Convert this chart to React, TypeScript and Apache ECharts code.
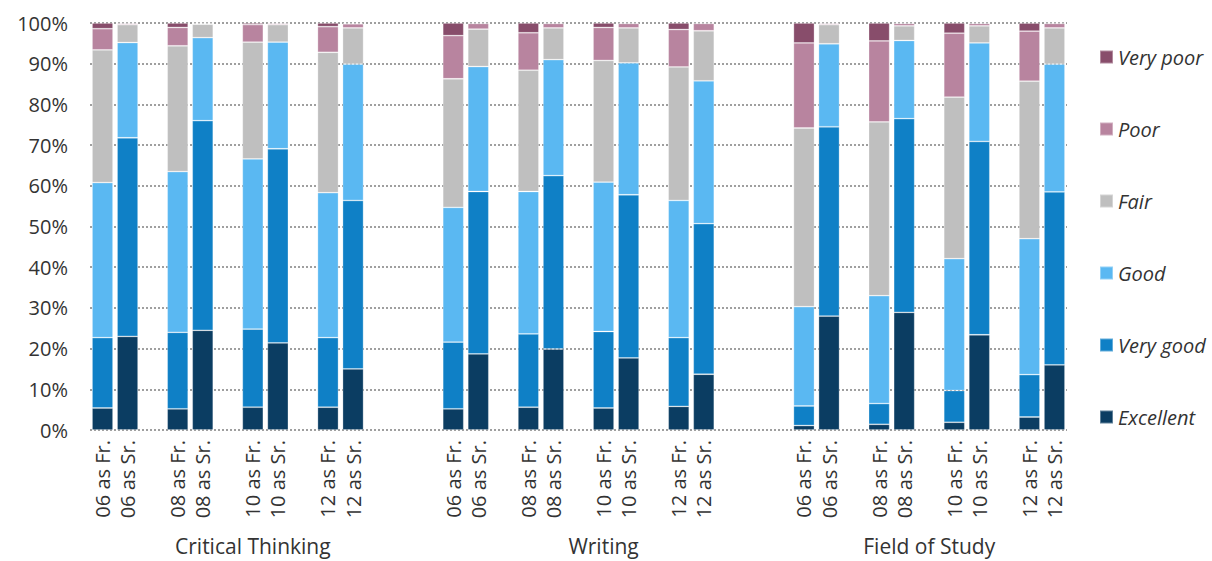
import React, { useEffect, useRef } from "react";
import * as echarts from "echarts";

const groups = ["Critical Thinking", "Writing", "Field of Study"];
const years = ["06", "08", "10", "12"];
const cohorts = ["as Fr.", "as Sr."];

const levels = ["Excellent", "Very good", "Good", "Fair", "Poor", "Very poor"];
const legendOrder = ["Very poor", "Poor", "Fair", "Good", "Very good", "Excellent"];
const colors = ["#0b3d62", "#0f80c6", "#5ab8f2", "#bfbfbf", "#b8849f", "#884d6b"];

// 24 bars: per group, per year: Fr, Sr
const excellent = [5.4, 23.0, 5.2, 24.5, 5.6, 21.4, 5.6, 15.0, 5.2, 18.7, 5.6, 19.9, 5.4, 17.7, 5.8, 13.7, 1.1, 28.0, 1.4, 28.9, 1.9, 23.4, 3.2, 16.0];
const veryGood = [17.3, 48.8, 18.8, 51.5, 19.2, 47.7, 17.1, 41.4, 16.4, 39.9, 18.0, 42.6, 18.8, 40.1, 16.9, 37.0, 4.8, 46.5, 5.1, 47.6, 7.8, 47.5, 10.4, 42.5];
const good = [38.1, 23.4, 39.5, 20.4, 41.8, 26.2, 35.6, 33.5, 33.1, 30.7, 35.0, 28.5, 36.7, 32.4, 33.7, 35.1, 24.4, 20.4, 26.5, 19.2, 32.4, 24.2, 33.4, 31.4];
const fair = [32.6, 4.4, 30.9, 3.3, 28.7, 4.3, 34.5, 8.9, 31.6, 9.2, 29.8, 7.8, 29.9, 8.6, 32.8, 12.3, 43.9, 4.7, 42.7, 3.6, 39.7, 4.2, 38.7, 8.9];
const poor = [5.2, 0.3, 4.5, 0.2, 4.3, 0.3, 6.3, 1.0, 10.6, 1.4, 9.2, 1.1, 8.1, 1.1, 9.2, 1.8, 20.9, 0.3, 19.9, 0.6, 15.7, 0.6, 12.3, 1.1];
const veryPoor = [1.4, 0.1, 1.1, 0.1, 0.4, 0.1, 0.9, 0.2, 3.1, 0.1, 2.4, 0.1, 1.1, 0.1, 1.6, 0.1, 4.9, 0.1, 4.4, 0.1, 2.5, 0.1, 2.0, 0.1];

const yTicks = [0, 10, 20, 30, 40, 50, 60, 70, 80, 90, 100];

const seriesValues = [excellent, veryGood, good, fair, poor, veryPoor];

export default function App() {
  const ref = useRef<HTMLDivElement>(null);
  useEffect(() => {
    document.body.style.margin = "0";
    const chart = echarts.init(ref.current!, undefined, { renderer: "svg" });

    // layout of category slots: each group has 4 pairs separated by a blank slot, groups separated by 3 blanks
    const groupStride = 14;
    const pairStride = 3;
    const totalSlots = groupStride * (groups.length - 1) + pairStride * (years.length - 1) + cohorts.length;
    const cats: string[] = new Array(totalSlots).fill("");
    const slotOfBar: number[] = [];
    groups.forEach((_, g) => {
      years.forEach((y, p) => {
        cohorts.forEach((c, k) => {
          const s = g * groupStride + p * pairStride + k;
          cats[s] = `${y} ${c}`;
          slotOfBar.push(s);
        });
      });
    });
    const groupCats: string[] = new Array(totalSlots).fill("");
    groups.forEach((name, g) => {
      const start = g * groupStride;
      const end = Math.min(start + 12, totalSlots - 1);
      groupCats[Math.floor((start + end) / 2)] = name;
    });

    const series = levels.map((lv, i) => {
      const data: (number | string)[] = new Array(totalSlots).fill("-");
      seriesValues[i].forEach((v, j) => {
        data[slotOfBar[j]] = v;
      });
      return {
        name: lv,
        type: "bar",
        stack: "total",
        barWidth: 21,
        data,
        itemStyle: { color: colors[i], borderColor: "rgba(255,255,255,0.35)", borderWidth: 0.8 },
      };
    });

    const font = "'Open Sans', 'Noto Sans', sans-serif";

    chart.setOption({
      animation: false,
      textStyle: { fontFamily: font },
      grid: { left: 90, right: 145, top: 23, bottom: 131, containLabel: false },
      legend: {
        orient: "vertical",
        left: 1094,
        top: 40,
        data: legendOrder,
        icon: "rect",
        itemWidth: 13,
        itemHeight: 13,
        itemGap: 48,
        textStyle: { fontSize: 20, fontStyle: "italic", color: "#333", lineHeight: 24, fontFamily: font },
      },
      xAxis: [
        {
          type: "category",
          data: cats,
          axisLine: { show: false },
          axisTick: { show: false },
          axisLabel: { interval: 0, rotate: 90, fontSize: 20, color: "#333", margin: 10, fontFamily: font },
        },
        {
          type: "category",
          position: "bottom",
          data: groupCats,
          axisLine: { show: false },
          axisTick: { show: false },
          axisLabel: { interval: 0, fontSize: 21, color: "#333", margin: 105, fontFamily: font },
        },
      ],
      yAxis: {
        type: "value",
        min: yTicks[0],
        max: yTicks[yTicks.length - 1],
        interval: yTicks[1] - yTicks[0],
        axisLine: { show: false },
        axisTick: { show: false },
        axisLabel: { formatter: "{value}%", fontSize: 20, color: "#333", margin: 22, fontFamily: font },
        splitLine: { lineStyle: { type: [2, 2], width: 1.5, color: "#808080" } },
      },
      series,
    });
    return () => chart.dispose();
  }, []);
  return <div ref={ref} style={{ width: 1212, height: 561 }} />;
}
